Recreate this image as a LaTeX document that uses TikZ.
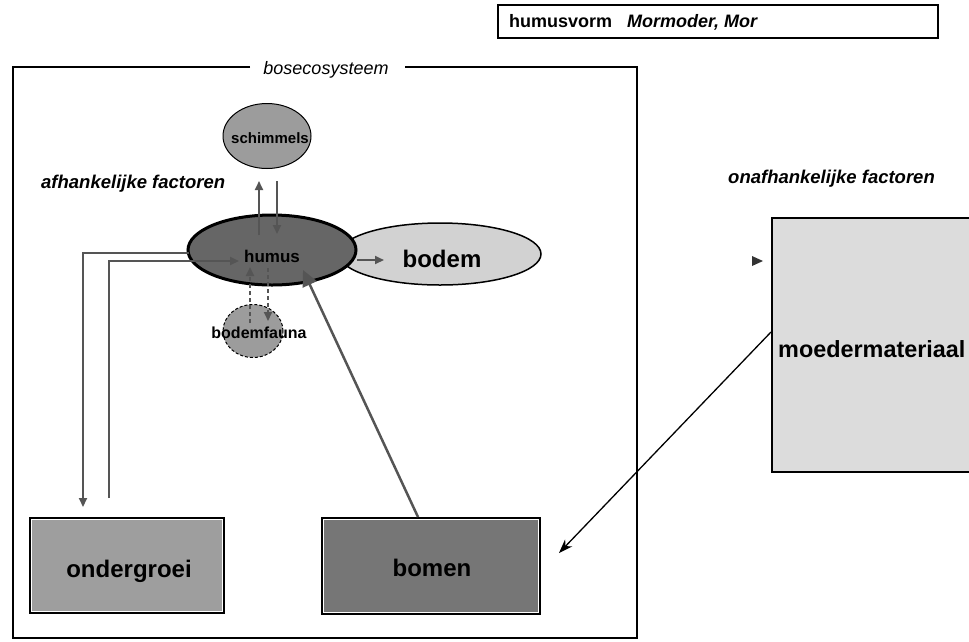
\documentclass[tikz,border=0pt]{standalone}
\usepackage{fontspec}
\setmainfont{Liberation Sans}
\usetikzlibrary{shapes.geometric,arrows.meta,calc}
\definecolor{cSchim}{HTML}{9C9C9C}
\definecolor{cHumus}{HTML}{666666}
\definecolor{cBodem}{HTML}{D2D2D2}
\definecolor{cFauna}{HTML}{9C9C9C}
\definecolor{cOnder}{HTML}{9E9E9E}
\definecolor{cBomen}{HTML}{767676}
\definecolor{cMoeder}{HTML}{DCDCDC}
\definecolor{cArrow}{HTML}{555555}
\tikzset{
  txt/.style={inner sep=0pt, anchor=base},
  bigtxt/.style={txt, font=\fontsize{24}{28}\selectfont\bfseries},
  labtxt/.style={txt, font=\fontsize{18.5}{22}\selectfont\bfseries\itshape},
  ell/.style={ellipse, draw=black, inner sep=0pt},
  blockbox/.style={rectangle, draw=black, line width=2pt, inner sep=0pt, anchor=north west},
  garrow/.style={draw=cArrow, line width=2pt, -{Triangle[length=9pt,width=8pt]}},
  dgarrow/.style={garrow, dashed, dash pattern=on 4pt off 3pt},
}
\begin{document}
\begin{tikzpicture}[x=1pt,y=-1pt]
\useasboundingbox (0,0) rectangle (969,641);
\clip (0,0) rectangle (969,641);

% top box
\node[rectangle, draw=black, line width=1.5pt, minimum width=440, minimum height=33, anchor=north west, inner sep=0pt] (topbox) at (497,4) {};
\node[txt, anchor=base west, font=\fontsize{18}{22}\selectfont\bfseries] (hvorm) at (509,27) {humusvorm};
\node[txt, anchor=base west, font=\fontsize{18}{22}\selectfont\bfseries\itshape] (hvormval) at (627,27) {Mormoder, Mor};

% outer frame with gap
\coordinate (fa) at (250,67);
\coordinate (fb) at (405,67);
\draw[line width=2pt] (fa) -- (13,67) -- (13,638) -- (637,638) -- (637,67) -- (fb);
\node[txt, font=\fontsize{18}{22}\selectfont\itshape] (eco) at (326,74) {bosecosysteem};

% labels
\node[labtxt, anchor=base west] (afh) at (41,188) {afhankelijke factoren};
\node[labtxt, anchor=base west] (onafh) at (728,183) {onafhankelijke factoren};

% ellipses
\node[ell, fill=cSchim, line width=1pt, minimum width=88, minimum height=65] (schim) at (267,136) {};
\node[ell, fill=cBodem, line width=1.5pt, minimum width=202, minimum height=62] (bodem) at (440,254) {};
\node[ell, fill=cHumus, line width=3pt, minimum width=168, minimum height=70] (humus) at (272,250) {};
\node[ell, fill=cFauna, line width=1pt, dashed, dash pattern=on 3pt off 2pt, minimum width=60, minimum height=53] (fauna) at (253,331) {};

\node[txt, font=\fontsize{15}{18}\selectfont\bfseries] (schimt) at (270,143) {schimmels};
\node[txt, font=\fontsize{17}{20}\selectfont\bfseries] (humust) at (272,262) {humus};
\node[bigtxt] (bodemt) at (442,267) {bodem};
\node[txt, font=\fontsize{16}{19}\selectfont\bfseries] (faunat) at (259,338) {bodemfauna};

% boxes
\node[blockbox, fill=cOnder, minimum width=194, minimum height=95] (onder) at (29,517) {};
\draw[white, line width=1pt] ($(onder.north west)+(2.5,2.5)$) rectangle ($(onder.south east)+(-2.5,-2.5)$);
\node[bigtxt] (ondert) at (129,577) {ondergroei};

\node[blockbox, fill=cBomen, minimum width=218, minimum height=96] (bomen) at (321,517) {};
\draw[white, line width=1pt] ($(bomen.north west)+(2.5,2.5)$) rectangle ($(bomen.south east)+(-2.5,-2.5)$);
\node[bigtxt] (boment) at (432,576) {bomen};

\node[blockbox, fill=cMoeder, minimum width=240, minimum height=254] (moeder) at (771,217) {};
\node[txt, anchor=base west, font=\fontsize{23.4}{28}\selectfont\bfseries] (moedert) at (778,357) {moedermateriaal};

% lone arrowhead
\fill[black!80] (752,256) -- (763,261) -- (752,266) -- cycle;

% connectors
\coordinate (hs1) at (259,235);
\coordinate (hs2) at (259,181);
\coordinate (sh1) at (277,181);
\coordinate (sh2) at (277,234);
\draw[garrow] (hs1) -- (hs2);
\draw[garrow] (sh1) -- (sh2);

\coordinate (hb1) at (357,260);
\coordinate (hb2) at (384,260);
\draw[garrow] (hb1) -- (hb2);

\coordinate (fh1) at (250,323);
\coordinate (fh2) at (250,267);
\coordinate (hf1) at (268,268);
\coordinate (hf2) at (268,321);
\draw[dgarrow] (fh1) -- (fh2);
\draw[dgarrow] (hf1) -- (hf2);

\coordinate (ho1) at (189,253);
\coordinate (ho2) at (83,507);
\draw[garrow] (ho1) -- (83,253) -- (ho2);
\coordinate (oh1) at (109,498);
\coordinate (oh2) at (239,261);
\draw[garrow] (oh1) -- (109,261) -- (oh2);

\coordinate (bh1) at (418,517);
\coordinate (bh2) at (303,270);
\draw[draw=cArrow, line width=2.5pt, -{Triangle[length=16pt,width=15pt]}] (bh1) -- (bh2);

\coordinate (mb1) at (771,332);
\coordinate (mb2) at (559,553);
\draw[black, line width=1.3pt, -{Stealth[length=14pt,width=10pt]}] (mb1) -- (mb2);
\end{tikzpicture}
\end{document}
